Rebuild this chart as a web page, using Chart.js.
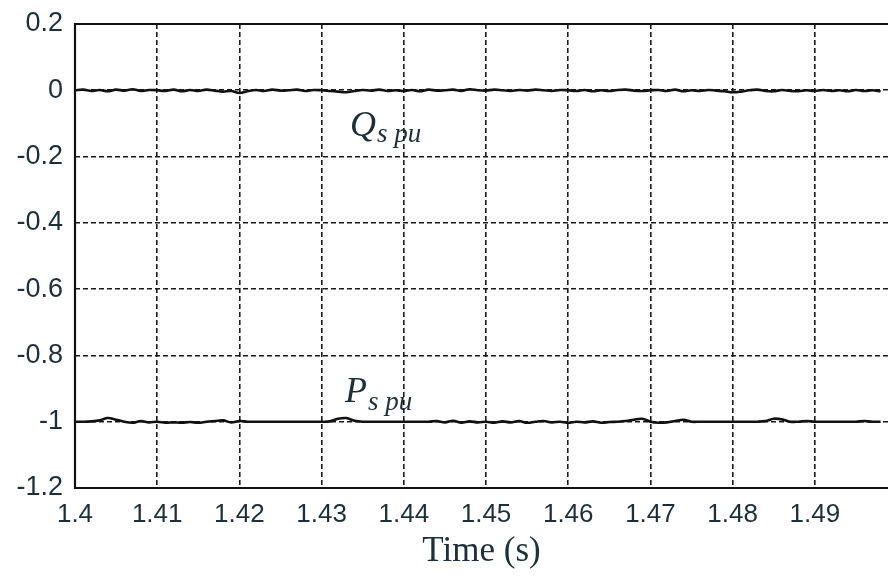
<!DOCTYPE html>
<html>
<head>
<meta charset="utf-8">
<script src="https://cdn.jsdelivr.net/npm/chart.js"></script>
<style>
  html, body { margin: 0; padding: 0; background: #fff; }
  #wrap { width: 888px; height: 577px; }
</style>
</head>
<body>
<div id="wrap"><canvas id="c" width="888" height="577"></canvas></div>
<script>
// sample times (s)
const times = [
  1.400, 1.401, 1.402, 1.403, 1.404, 1.405, 1.406, 1.407, 1.408, 1.409,
  1.410, 1.411, 1.412, 1.413, 1.414, 1.415, 1.416, 1.417, 1.418, 1.419,
  1.420, 1.421, 1.422, 1.423, 1.424, 1.425, 1.426, 1.427, 1.428, 1.429,
  1.430, 1.431, 1.432, 1.433, 1.434, 1.435, 1.436, 1.437, 1.438, 1.439,
  1.440, 1.441, 1.442, 1.443, 1.444, 1.445, 1.446, 1.447, 1.448, 1.449,
  1.450, 1.451, 1.452, 1.453, 1.454, 1.455, 1.456, 1.457, 1.458, 1.459,
  1.460, 1.461, 1.462, 1.463, 1.464, 1.465, 1.466, 1.467, 1.468, 1.469,
  1.470, 1.471, 1.472, 1.473, 1.474, 1.475, 1.476, 1.477, 1.478, 1.479,
  1.480, 1.481, 1.482, 1.483, 1.484, 1.485, 1.486, 1.487, 1.488, 1.489,
  1.490, 1.491, 1.492, 1.493, 1.494, 1.495, 1.496, 1.497, 1.498
];

// reactive power Qs (pu)
const qsPu = [
  0.000, 0.002, -0.002, 0.001, -0.003, 0.002, -0.001, 0.003, -0.002, 0.001,
  0.000, -0.002, 0.002, -0.003, 0.001, -0.002, 0.002, -0.001, -0.004, -0.002,
  -0.008, -0.003, 0.001, -0.002, 0.002, -0.001, 0.000, 0.002, -0.002, 0.001,
  0.000, -0.002, -0.004, -0.006, -0.002, 0.001, -0.001, 0.002, -0.002, 0.000,
  -0.002, 0.001, -0.003, 0.002, -0.001, 0.000, 0.002, -0.002, 0.003, 0.000,
  -0.001, 0.002, 0.000, -0.002, 0.001, -0.001, 0.002, 0.000, -0.002, 0.001,
  0.000, -0.002, 0.001, -0.003, 0.000, -0.002, 0.001, 0.002, -0.001, -0.002,
  0.000, 0.001, -0.002, 0.002, -0.003, 0.000, -0.002, 0.001, -0.001, -0.003,
  -0.006, -0.004, 0.000, 0.002, -0.002, -0.003, 0.001, -0.002, -0.003, 0.000,
  -0.002, 0.001, -0.002, 0.000, -0.003, 0.001, -0.002, 0.000, -0.003
];

// active power Ps (pu)
const psPu = [
  -1.000, -1.000, -0.999, -0.996, -0.989, -0.994, -1.000, -1.003, -0.998, -1.002,
  -1.000, -1.003, -1.002, -1.003, -1.001, -1.003, -1.000, -0.998, -0.996, -1.002,
  -0.998, -1.000, -1.000, -1.000, -1.000, -1.000, -1.000, -1.000, -1.000, -1.000,
  -1.000, -0.999, -0.991, -0.989, -0.997, -1.000, -1.000, -1.000, -1.000, -1.000,
  -1.000, -1.000, -1.000, -1.000, -0.998, -1.002, -0.997, -1.003, -0.999, -1.002,
  -1.000, -1.003, -0.999, -1.002, -0.998, -1.003, -1.000, -0.998, -1.002, -1.000,
  -1.003, -1.000, -1.002, -0.999, -1.003, -1.001, -1.000, -0.998, -0.994, -0.991,
  -1.000, -1.003, -1.002, -0.998, -0.994, -1.000, -1.000, -1.000, -1.000, -1.000,
  -1.000, -1.000, -1.000, -1.000, -0.998, -0.991, -0.993, -1.000, -1.000, -0.998,
  -1.000, -1.000, -1.000, -1.000, -1.000, -1.000, -0.998, -1.000, -1.000
];

const xTicks = [1.40, 1.41, 1.42, 1.43, 1.44, 1.45, 1.46, 1.47, 1.48, 1.49];
const yTicks = [0.2, 0, -0.2, -0.4, -0.6, -0.8, -1, -1.2];

const textColor = '#1c2f3a';

const frame = {
  id: 'frame',
  afterDraw(chart) {
    const a = chart.chartArea, ctx = chart.ctx;
    ctx.save();
    ctx.strokeStyle = '#111';
    ctx.lineWidth = 2.2;
    ctx.beginPath();
    ctx.moveTo(chart.width, a.top);
    ctx.lineTo(a.left, a.top);
    ctx.lineTo(a.left, a.bottom);
    ctx.lineTo(chart.width, a.bottom);
    ctx.stroke();

    // curve labels
    const xs = chart.scales.x, ys = chart.scales.y;
    function label(main, sub, xv, yv, drop) {
      const px = xs.getPixelForValue(xv), py = ys.getPixelForValue(yv);
      ctx.fillStyle = textColor;
      ctx.textBaseline = 'alphabetic';
      ctx.textAlign = 'left';
      ctx.font = 'italic 36px "Liberation Serif", serif';
      ctx.fillText(main, px, py);
      const w = ctx.measureText(main).width;
      ctx.font = 'italic 27px "Liberation Serif", serif';
      ctx.fillText(sub, px + w + 1, py + drop);
    }
    label('Q', 's pu', 1.43345, -0.138, 6);
    label('P', 's pu', 1.43285, -0.9405, 8);
    ctx.restore();
  }
};

new Chart(document.getElementById('c'), {
  type: 'line',
  data: {
    labels: times,
    datasets: [
      {
        label: 'Qs pu',
        data: times.map((t, i) => ({ x: t, y: qsPu[i] })),
        borderColor: '#111',
        borderWidth: 2.6,
        pointRadius: 0,
        tension: 0.35
      },
      {
        label: 'Ps pu',
        data: times.map((t, i) => ({ x: t, y: psPu[i] })),
        borderColor: '#111',
        borderWidth: 2.6,
        pointRadius: 0,
        tension: 0.35
      }
    ]
  },
  options: {
    responsive: false,
    animation: false,
    layout: { padding: { top: 24, right: 0, left: 0, bottom: 0 } },
    plugins: {
      legend: { display: false },
      tooltip: { enabled: false }
    },
    scales: {
      x: {
        type: 'linear',
        min: 1.4,
        max: 1.4989,
        afterBuildTicks: s => { s.ticks = xTicks.map(v => ({ value: v })); },
        afterFit: s => { s.height = 89; s.paddingLeft = 0; s.paddingRight = 0; },
        grid: { color: '#1a1a1a', lineWidth: 1.6, drawTicks: false },
        border: { display: false, dash: [5, 3] },
        ticks: {
          padding: 11,
          color: textColor,
          font: { family: '"Liberation Sans", Arial, sans-serif', size: 26 },
          maxRotation: 0,
          callback: v => Number(v.toFixed(2)).toString()
        },
        title: {
          display: true,
          text: 'Time (s)',
          color: textColor,
          padding: { top: 2 },
          font: { family: '"Liberation Serif", serif', size: 35 }
        }
      },
      y: {
        min: -1.2,
        max: 0.2,
        afterBuildTicks: s => { s.ticks = yTicks.map(v => ({ value: v })); },
        afterFit: s => { s.width = 75; s.paddingTop = 0; s.paddingBottom = 0; },
        grid: { color: '#1a1a1a', lineWidth: 1.6, drawTicks: false },
        border: { display: false, dash: [5, 3] },
        ticks: {
          padding: 12,
          color: textColor,
          font: { family: '"Liberation Sans", Arial, sans-serif', size: 27 },
          callback: v => Number(v.toFixed(1)).toString()
        }
      }
    }
  },
  plugins: [frame]
});
</script>
</body>
</html>
